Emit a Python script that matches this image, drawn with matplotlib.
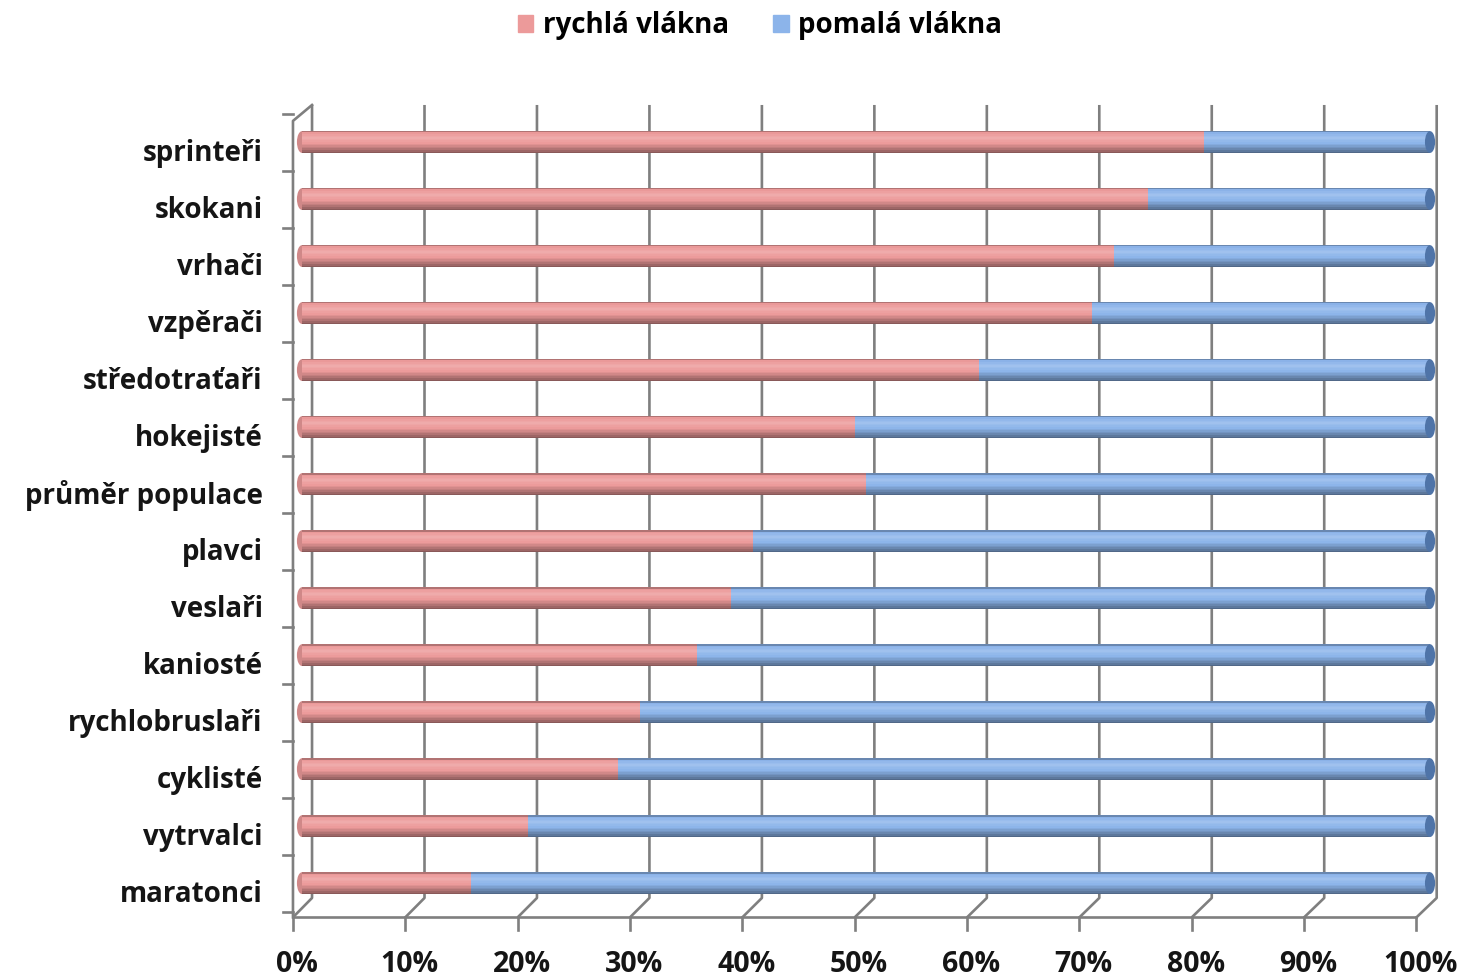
import matplotlib
matplotlib.use("Agg")
import matplotlib.pyplot as plt
import numpy as np
from matplotlib.patches import Ellipse, Rectangle
import matplotlib.colors as mcolors

categories = ["sprinteři", "skokani", "vrhači", "vzpěrači", "středotraťaři", "hokejisté",
              "průměr populace", "plavci", "veslaři", "kaniosté", "rychlobruslaři",
              "cyklisté", "vytrvalci", "maratonci"]
fast = [80, 75, 72, 70, 60, 49, 50, 40, 38, 35, 30, 28, 20, 15]
slow = [100 - v for v in fast]
series_names = ["rychlá vlákna", "pomalá vlákna"]
tick_values = [0, 10, 20, 30, 40, 50, 60, 70, 80, 90, 100]
tick_labels = [f"{v}%" for v in tick_values]

RED = "#EC9A9A"
BLUE = "#8CB4EA"
GRID = "#7f7f7f"
FONT = "Open Sans"
TXT = "#151515"

W, H = 1460, 977
fig = plt.figure(figsize=(W / 100, H / 100), dpi=100)
fig.patch.set_facecolor("white")
ax = fig.add_axes([280 / W, (H - 935) / H, 1170 / W, 840 / H])
ax.set_xlim(-1.95, 101.77)
ax.set_ylim(13.91, -0.825)
for s in ax.spines.values():
    s.set_visible(False)
ax.set_xticks([])
n = len(categories)
y = np.arange(n)
LABEL_DEPTH = 0.14  # labels sit at the front plane, slightly below bar centres
ax.set_yticks(y + LABEL_DEPTH)
ax.set_yticklabels(categories, fontsize=20, fontweight="bold", family=FONT, color=TXT)
ax.tick_params(axis="y", length=0, pad=12.5)

# 3D frame geometry (depth offsets)
back = lambda v: 0.89 + 0.997 * v
front = lambda v: -0.80 + 0.996 * v
Y_TOP = -0.65
Y_BACK_BOT = 13.26
Y_FRONT = 13.6
lw = 1.9

for v in tick_values:
    ax.plot([back(v), back(v), front(v)], [Y_TOP, Y_BACK_BOT, Y_FRONT], color=GRID, lw=lw,
            solid_capstyle="butt", zorder=1)
    ax.plot([front(v), front(v)], [Y_FRONT, 13.83], color=GRID, lw=lw, zorder=1, clip_on=False)
# floor front
ax.plot([front(0), front(100)], [Y_FRONT, Y_FRONT], color=GRID, lw=lw, zorder=1)
# left wall
ax.plot([front(0), front(0), back(0)], [Y_FRONT, -0.37, Y_TOP], color=GRID, lw=lw, zorder=1)
for b in np.arange(-0.5, n + 0.5, 1.0):
    ax.plot([front(0) - 0.9, front(0)], [b, b], color=GRID, lw=lw, zorder=1, clip_on=False)

# cylinder-like bars
bar_h = 0.39
profile_t = np.linspace(0, 1, 14)
shade = np.interp(profile_t, [0, 0.08, 0.3, 0.55, 0.8, 1.0], [0.75, 1.0, 1.08, 1.0, 0.8, 0.58])

def shaded(color, f):
    rgb = np.array(mcolors.to_rgb(color))
    if f >= 1:
        return tuple(rgb + (1 - rgb) * (f - 1) * 2.2)
    return tuple(rgb * f)

strip = bar_h / len(profile_t)
for k, f in enumerate(shade):
    offs = -bar_h / 2 + strip * (k + 0.5)
    ax.barh(y + offs, fast, height=strip * 1.05, left=0, color=shaded(RED, f), lw=0, zorder=3)
    ax.barh(y + offs, slow, height=strip * 1.05, left=fast, color=shaded(BLUE, f), lw=0, zorder=3)

for i in range(n):
    ax.add_patch(Ellipse((fast[i] + slow[i], y[i]), 0.9, bar_h * 0.98, color="#4f74a8", zorder=4, lw=0))
    ax.add_patch(Ellipse((0, y[i]), 0.9, bar_h * 0.98, color=shaded(RED, 0.88), zorder=2.5, lw=0))

# x tick labels
for v, lab in zip(tick_values, tick_labels):
    ax.text(front(v) + 0.35, 14.43, lab, ha="center", va="center", fontsize=20.5,
            fontweight="bold", family=FONT, color=TXT, clip_on=False)

# legend
handles = [Rectangle((0, 0), 1, 1, color=RED), Rectangle((0, 0), 1, 1, color=BLUE)]
fig.legend(handles, series_names, loc="center", bbox_to_anchor=(760 / W, 1 - 26 / H), ncol=2,
           frameon=False, prop={"family": FONT, "weight": "bold", "size": 20},
           handlelength=0.55, handleheight=0.55, handletextpad=0.35, columnspacing=1.6)

fig.savefig("out.png", dpi=100, facecolor="white")
